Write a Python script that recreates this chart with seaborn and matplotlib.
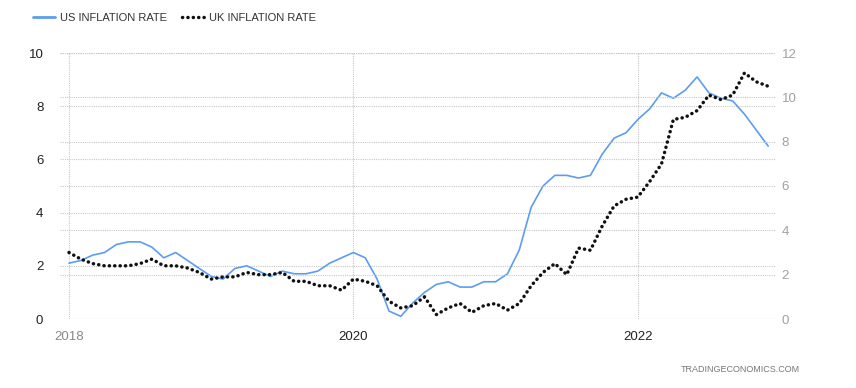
import matplotlib
matplotlib.use("Agg")
import matplotlib.pyplot as plt
import seaborn as sns
import numpy as np
import pandas as pd

# Monthly data, Jan 2018 .. Dec 2022
us_rate = [2.1, 2.2, 2.4, 2.5, 2.8, 2.9, 2.9, 2.7, 2.3, 2.5, 2.2, 1.9,
           1.6, 1.5, 1.9, 2.0, 1.8, 1.6, 1.8, 1.7, 1.7, 1.8, 2.1, 2.3,
           2.5, 2.3, 1.5, 0.3, 0.1, 0.6, 1.0, 1.3, 1.4, 1.2, 1.2, 1.4,
           1.4, 1.7, 2.6, 4.2, 5.0, 5.4, 5.4, 5.3, 5.4, 6.2, 6.8, 7.0,
           7.5, 7.9, 8.5, 8.3, 8.6, 9.1, 8.5, 8.3, 8.2, 7.7, 7.1, 6.5]
uk_rate = [3.0, 2.7, 2.5, 2.4, 2.4, 2.4, 2.5, 2.7, 2.4, 2.4, 2.3, 2.1,
           1.8, 1.9, 1.9, 2.1, 2.0, 2.0, 2.1, 1.7, 1.7, 1.5, 1.5, 1.3,
           1.8, 1.7, 1.5, 0.8, 0.5, 0.6, 1.0, 0.2, 0.5, 0.7, 0.3, 0.6,
           0.7, 0.4, 0.7, 1.5, 2.1, 2.5, 2.0, 3.2, 3.1, 4.2, 5.1, 5.4,
           5.5, 6.2, 7.0, 9.0, 9.1, 9.4, 10.1, 9.9, 10.1, 11.1, 10.7, 10.5]
month_index = list(range(len(us_rate)))
x_tick_pos = [0, 24, 48]
x_tick_labels = ["2018", "2020", "2022"]
left_ticks = [0, 2, 4, 6, 8, 10]
right_ticks = [0, 2, 4, 6, 8, 10, 12]

sns.set_theme(style="white")
plt.rcParams["font.family"] = ["Liberation Sans", "DejaVu Sans"]

df = pd.DataFrame({"month": month_index, "us": us_rate, "uk": uk_rate})

fig = plt.figure(figsize=(8.56, 3.88), dpi=100)
ax = fig.add_axes([60/856, (388-319)/388, (776-60)/856, (319-53)/388])
ax2 = ax.twinx()

grid_kw = dict(color="#c8c8c8", linestyle=(0, (1, 1)), linewidth=0.8)

sns.lineplot(data=df, x="month", y="us", ax=ax, color="#5c9df0", linewidth=1.2,
             label="US INFLATION RATE", legend=False, clip_on=False, zorder=3)
sns.lineplot(data=df, x="month", y="uk", ax=ax2, color="#111111", linewidth=2.5,
             linestyle=(0, (0.05, 1.5)), label="UK INFLATION RATE", legend=False,
             clip_on=False, zorder=3)
ax2.lines[0].set_dash_capstyle("round")

ax.set_xlim(-0.76, 59.66)
ax.set_ylim(0, 10)
ax2.set_ylim(0, 12)

ax.set_yticks(left_ticks)
ax2.set_yticks(right_ticks)
ax.set_xticks(x_tick_pos)
ax.set_xticklabels(x_tick_labels)

ax.grid(True, axis="both", **grid_kw)
ax2.grid(True, axis="y", **grid_kw)
ax.set_axisbelow(True)

for a in (ax, ax2):
    for s in a.spines.values():
        s.set_visible(False)
    a.set_xlabel("")
    a.set_ylabel("")

ax.tick_params(axis="y", length=0, pad=12, labelsize=9.5, labelcolor="#222222")
ax2.tick_params(axis="y", length=0, pad=4, labelsize=9.5, labelcolor="#a0a0a0")
ax.tick_params(axis="x", length=3, width=0.8, color="#cfcfcf", pad=6,
               labelsize=9.5, labelcolor="#222222")
ax.get_xticklabels()[0].set_color("#888888")

h1, l1 = ax.get_legend_handles_labels()
h2, l2 = ax2.get_legend_handles_labels()
leg = fig.legend(h1 + h2, l1 + l2, loc="center left",
                 bbox_to_anchor=(23/856, 1 - 18/388),
                 ncol=2, frameon=False, fontsize=8, handlelength=2.0,
                 handletextpad=0.4, columnspacing=1.4, labelcolor="#333333")
leg.get_lines()[0].set_linewidth(2.0)

fig.text(800/856, 1 - 370/388, "TRADINGECONOMICS.COM", ha="right", va="center",
         fontsize=6.5, color="#777777")

fig.savefig("out.png", dpi=100)
